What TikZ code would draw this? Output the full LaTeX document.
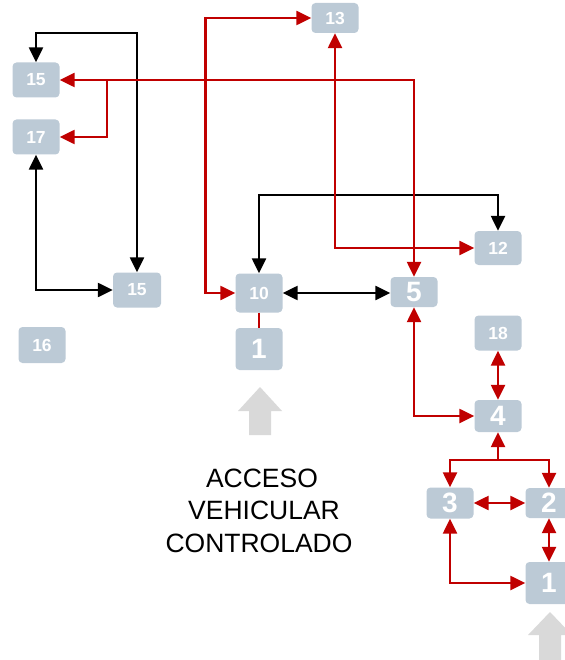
\documentclass[tikz,border=0pt]{standalone}
\usepackage{fontspec}
\setmainfont{Liberation Sans}
\usetikzlibrary{arrows.meta}
\definecolor{boxc}{HTML}{BCCAD6}
\definecolor{redc}{HTML}{C00000}
\definecolor{greyc}{HTML}{D9D9D9}
\tikzset{
  box/.style={fill=boxc, rounded corners=4pt, text=white, inner sep=0pt,
    font=\bfseries\fontsize{17.5}{17.5}\selectfont, minimum width=47pt},
  bigbox/.style={box, font=\bfseries\fontsize{28}{28}\selectfont},
  tip/.tip={Triangle[length=15pt,width=14pt]},
  rl/.style={draw=redc, line width=2.4pt},
  bl/.style={draw=black, line width=2.4pt},
  both/.style={tip-tip},
  one/.style={-tip},
  bigarrow/.style={fill=greyc, draw=none},
  lbl/.style={anchor=base, inner sep=0pt, font=\fontsize{26.5}{32}\selectfont}
}
\begin{document}
\begin{tikzpicture}[x=1pt, y=-1pt]
\useasboundingbox (0,0) rectangle (564,660);
% nodes
\node[box, minimum height=30pt] (n13) at (335,18) {13};
\node[box, minimum height=35pt] (n15a) at (36,80) {15};
\node[box, minimum height=35pt] (n17) at (36,137) {17};
\node[box, minimum height=34pt] (n12) at (498,248) {12};
\node[box, minimum height=35pt, minimum width=48pt] (n15b) at (137,290) {15};
\node[box, minimum height=39pt] (n10) at (259,293) {10};
\node[bigbox, minimum height=30pt] (n5) at (414,292) {5};
\node[box, minimum height=36pt] (n16) at (42,345) {16};
\node[bigbox, minimum height=42pt] (n1a) at (259,349) {1};
\node[box, minimum height=35pt] (n18) at (498,333) {18};
\node[bigbox, minimum height=32pt] (n4) at (498,416) {4};
\node[bigbox, minimum height=31pt] (n3) at (450,503) {3};
\node[bigbox, minimum height=30pt] (n2) at (549,503) {2};
\node[bigbox, minimum height=42pt] (n1b) at (549,583) {1};
% big grey arrows
\fill[bigarrow] (238,411) -- (260,387) -- (282,411) -- (271,411) -- (271,435) -- (249,435) -- (249,411) -- cycle;
\fill[bigarrow] (528,635) -- (550,612) -- (572,635) -- (561,635) -- (561,665) -- (539,665) -- (539,635) -- cycle;
% text
\node[lbl] (t1) at (262,487) {ACCESO};
\node[lbl] (t2) at (264,519) {VEHICULAR};
\node[lbl] (t3) at (259,552) {CONTROLADO};
% black connectors
\draw[bl, both] (n15a.north) -- (n15a.north |- 0,33) -| (n15b.north);
\draw[bl, both] (n17.south) |- (n15b.west);
\draw[bl, both] (n10.north) -- (n10.north |- 0,195) -| (n12.north);
\draw[bl, both] (n10.east) -- (n10.east -| n5.west);
% red connectors
\draw[rl, both] (n15a.east) -- (n15a.east -| n5.north) -- (n5.north);
\coordinate (br) at (107,80);
\draw[rl, one] (br) |- (n17.east);
\draw[rl, both] (n10.west) -- ++(-30,0) |- (n13.west);
\draw[rl, both] (n13.south) |- (n12.west);
\draw[rl] (n10.south) -- (n1a.north);
\draw[rl, both] (n5.south) |- (n4.west);
\draw[rl, both] (n18.south) -- (n4.north);
\coordinate (j) at (498,460);
\draw[rl, one] (j) -- (n4.south);
\draw[rl, one] (j) -| (n3.north);
\draw[rl, one] (j) -| (n2.north);
\draw[rl, both] (n3.east) -- (n2.west);
\draw[rl, both] (n2.south) -- (n1b.north);
\draw[rl, both] (n3.south) |- (n1b.west);
\end{tikzpicture}
\end{document}
